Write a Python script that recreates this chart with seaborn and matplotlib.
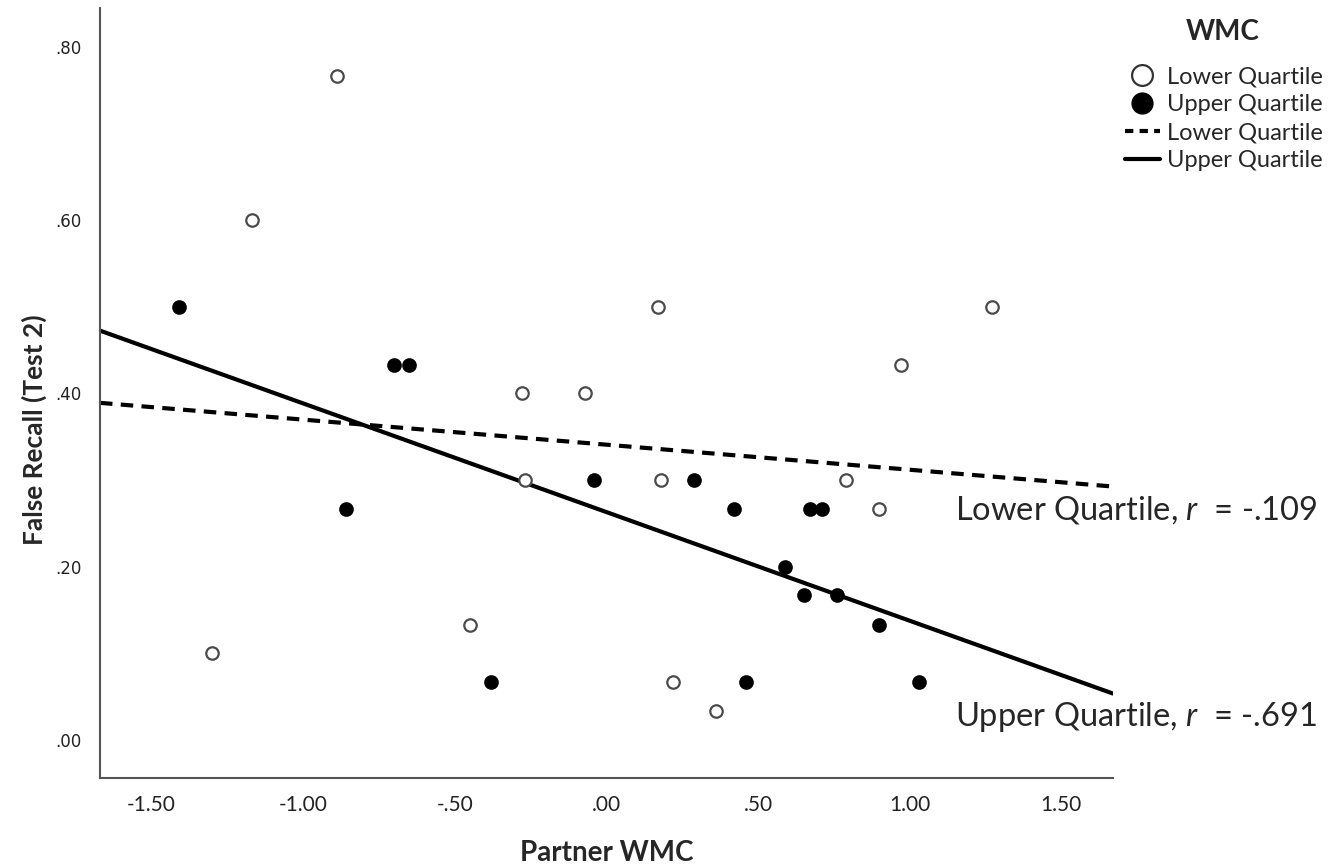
import numpy as np
import pandas as pd
import seaborn as sns
import matplotlib.pyplot as plt
from matplotlib.lines import Line2D

# partner WMC (x) and false recall at test 2 (y), per WMC quartile
lower_x = [-1.30, -1.17, -0.89, -0.45, -0.28, -0.27, -0.07, 0.17, 0.18, 0.22,
           0.36, 0.79, 0.90, 0.97, 1.27]
lower_y = [0.100, 0.600, 0.767, 0.133, 0.400, 0.300, 0.400, 0.500, 0.300, 0.067,
           0.033, 0.300, 0.267, 0.433, 0.500]
upper_x = [-1.41, -0.86, -0.70, -0.65, -0.38, -0.04, 0.29, 0.42, 0.46, 0.59,
           0.65, 0.67, 0.71, 0.76, 0.90, 1.03]
upper_y = [0.500, 0.267, 0.433, 0.433, 0.067, 0.300, 0.300, 0.267, 0.067, 0.200,
           0.167, 0.267, 0.267, 0.167, 0.133, 0.067]

group_names = ['Lower Quartile', 'Upper Quartile']
r_values = ['-.109', '-.691']

x_ticks = [-1.5, -1.0, -0.5, 0.0, 0.5, 1.0, 1.5]
x_tick_labels = ['-1.50', '-1.00', '-.50', '.00', '.50', '1.00', '1.50']
y_ticks = [0.0, 0.2, 0.4, 0.6, 0.8]
y_tick_labels = ['.00', '.20', '.40', '.60', '.80']

df = pd.concat([
    pd.DataFrame({'partner': lower_x, 'recall': lower_y, 'wmc': group_names[0]}),
    pd.DataFrame({'partner': upper_x, 'recall': upper_y, 'wmc': group_names[1]}),
])

sns.set_theme(style='white')
plt.rcParams['font.family'] = ['Lato', 'DejaVu Sans']
plt.rcParams['mathtext.fontset'] = 'custom'
plt.rcParams['mathtext.it'] = 'Lato:italic'
plt.rcParams['mathtext.rm'] = 'Lato'

fig = plt.figure(figsize=(13.42, 8.67), dpi=100)
ax = fig.add_axes([0.0745, 0.1027, 0.7548, 0.888])
ax.set_xlim(-1.67, 1.67)
ax.set_ylim(-0.044, 0.845)

styles = {
    'Lower Quartile': dict(fc='white', ec='#4a4a4a', ls=(0, (3, 2))),
    'Upper Quartile': dict(fc='black', ec='black', ls='-'),
}

for name in group_names:
    sub = df[df['wmc'] == name]
    st = styles[name]
    sns.regplot(data=sub, x='partner', y='recall', ci=None, truncate=False, ax=ax,
                scatter_kws=dict(s=80, facecolors=st['fc'], edgecolors=st['ec'],
                                 linewidths=1.6, alpha=1, zorder=3),
                line_kws=dict(color='black', lw=3, ls=st['ls'], zorder=2))

ax.set_xticks(x_ticks)
ax.set_xticklabels(x_tick_labels, fontsize=15, color='#222222')
ax.set_yticks(y_ticks)
ax.set_yticklabels(y_tick_labels, fontsize=12, color='#222222', family='DejaVu Sans')
ax.tick_params(axis='x', length=0, pad=12)
ax.tick_params(axis='y', length=0, pad=13)

for s in ['top', 'right']:
    ax.spines[s].set_visible(False)
for s in ['left', 'bottom']:
    ax.spines[s].set_color('#555555')
    ax.spines[s].set_linewidth(1.5)

ax.set_xlabel('Partner WMC', fontsize=20, fontweight='bold', va='baseline')
ax.set_ylabel('False Recall (Test 2)', fontsize=19, fontweight='bold')
ax.xaxis.set_label_coords(0.5, -0.108)
ax.yaxis.set_label_coords(-0.052, 0.452)

# r annotations
fig.text(955 / 1342, 1 - 520 / 867, group_names[0] + r', $\it{r}$  = ' + r_values[0],
         fontsize=23.5, va='baseline', ha='left')
fig.text(955 / 1342, 1 - 726 / 867, group_names[1] + r', $\it{r}$  = ' + r_values[1],
         fontsize=23.5, va='baseline', ha='left')

# legend
fig.text(1223 / 1342, 1 - 32 / 867, 'WMC', fontsize=20, fontweight='bold',
         ha='center', va='center')
handles = [
    Line2D([], [], marker='o', ls='none', markersize=15, markerfacecolor='white',
           markeredgecolor='#333333', markeredgewidth=1.6),
    Line2D([], [], marker='o', ls='none', markersize=15, markerfacecolor='black',
           markeredgecolor='black'),
    Line2D([], [], color='black', lw=3, ls=(0, (2, 1.5))),
    Line2D([], [], color='black', lw=3, ls='-'),
]
labels = group_names + group_names
fig.legend(handles, labels, loc='upper left',
           bbox_to_anchor=(1108 / 1342, 1 - 50 / 867), frameon=False, fontsize=17,
           handlelength=1.5, handletextpad=0.3, labelspacing=0.29, borderpad=0.2)

fig.savefig('out.png', dpi=100)
